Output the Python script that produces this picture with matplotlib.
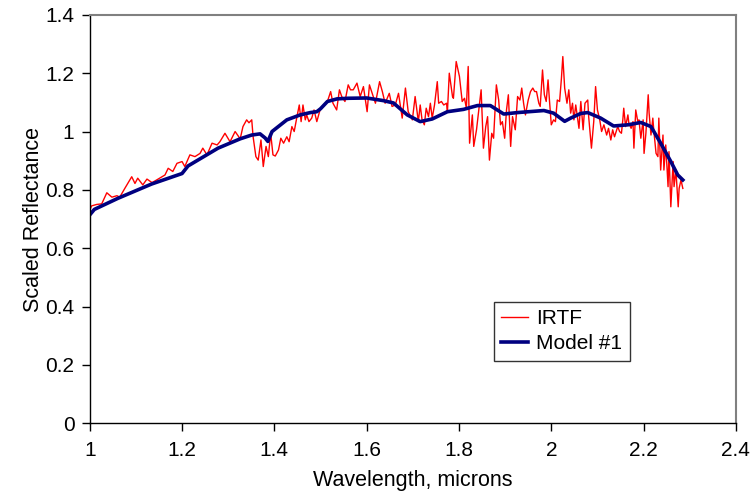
import matplotlib
matplotlib.use("Agg")
import matplotlib.pyplot as plt
from matplotlib.ticker import FuncFormatter

plt.rcParams['font.family'] = ['Liberation Sans', 'DejaVu Sans']

irtf_wl = [1.0, 1.004, 1.015, 1.026, 1.037, 1.048, 1.059, 1.065, 1.076, 1.091, 1.098, 1.104,
           1.115, 1.124, 1.135, 1.145, 1.163, 1.17, 1.18, 1.189, 1.2, 1.206, 1.217, 1.228,
           1.239, 1.245, 1.254, 1.265, 1.276, 1.282, 1.293, 1.304, 1.315, 1.326, 1.332, 1.34,
           1.345, 1.351, 1.354, 1.36, 1.365, 1.371, 1.376, 1.382, 1.387, 1.392, 1.397, 1.402,
           1.409, 1.414, 1.42, 1.427, 1.432, 1.438, 1.443, 1.449, 1.454, 1.458, 1.462, 1.467,
           1.47, 1.475, 1.481, 1.486, 1.492, 1.499, 1.506, 1.515, 1.522, 1.527, 1.535, 1.541,
           1.546, 1.553, 1.56, 1.565, 1.571, 1.579, 1.586, 1.593, 1.601, 1.606, 1.612, 1.619,
           1.628, 1.634, 1.64, 1.649, 1.655, 1.662, 1.669, 1.677, 1.684, 1.69, 1.699, 1.705,
           1.712, 1.716, 1.72, 1.725, 1.729, 1.734, 1.738, 1.742, 1.747, 1.753, 1.756, 1.762,
           1.767, 1.773, 1.775, 1.779, 1.786, 1.788, 1.794, 1.801, 1.807, 1.812, 1.816, 1.82,
           1.823, 1.829, 1.832, 1.838, 1.843, 1.848, 1.853, 1.858, 1.862, 1.866, 1.871, 1.875,
           1.881, 1.886, 1.89, 1.894, 1.899, 1.903, 1.907, 1.912, 1.916, 1.922, 1.927, 1.932,
           1.936, 1.94, 1.944, 1.95, 1.955, 1.96, 1.964, 1.968, 1.973, 1.976, 1.981, 1.985,
           1.989, 1.993, 1.996, 2.0, 2.005, 2.009, 2.013, 2.018, 2.022, 2.025, 2.029, 2.034,
           2.038, 2.042, 2.046, 2.049, 2.053, 2.06, 2.064, 2.069, 2.073, 2.079, 2.081, 2.087,
           2.092, 2.096, 2.1, 2.105, 2.109, 2.114, 2.12, 2.124, 2.129, 2.133, 2.137, 2.144,
           2.148, 2.152, 2.155, 2.157, 2.161, 2.166, 2.168, 2.173, 2.177, 2.179, 2.183, 2.188,
           2.19, 2.194, 2.199, 2.201, 2.205, 2.21, 2.212, 2.216, 2.22, 2.222, 2.227, 2.231,
           2.233, 2.237, 2.242, 2.244, 2.248, 2.253, 2.255, 2.259, 2.264, 2.266, 2.27, 2.275,
           2.277, 2.281, 2.285]
irtf_refl = [0.73, 0.745, 0.75, 0.752, 0.79, 0.775, 0.78, 0.775, 0.805, 0.845, 0.822, 0.84,
             0.817, 0.837, 0.825, 0.834, 0.851, 0.874, 0.863, 0.891, 0.897, 0.88, 0.92, 0.914,
             0.925, 0.943, 0.92, 0.96, 0.954, 0.965, 0.994, 0.965, 1.0, 0.975, 1.017, 1.04,
             1.03, 1.04, 0.982, 0.914, 0.902, 0.971, 0.88, 0.949, 0.914, 0.994, 0.92, 0.916,
             0.937, 0.977, 0.96, 0.982, 0.965, 1.017, 1.0, 1.051, 1.091, 1.034, 1.091, 1.04,
             1.057, 1.034, 1.046, 1.074, 1.034, 1.074, 1.086, 1.103, 1.137, 1.097, 1.074, 1.143,
             1.12, 1.103, 1.16, 1.143, 1.143, 1.166, 1.12, 1.154, 1.068, 1.16, 1.131, 1.097,
             1.171, 1.137, 1.097, 1.131, 1.086, 1.091, 1.131, 1.046, 1.149, 1.068, 1.04, 1.12,
             1.034, 1.091, 1.04, 1.023, 1.08, 1.051, 1.097, 1.046, 1.091, 1.171, 1.097, 1.103,
             1.091, 1.097, 1.068, 1.2, 1.12, 1.114, 1.24, 1.189, 1.103, 1.114, 1.08, 1.223,
             0.96, 1.057, 0.949, 1.006, 1.074, 1.143, 0.943, 1.017, 1.051, 0.902, 0.994, 0.977,
             1.16, 1.108, 1.023, 1.034, 0.977, 1.074, 1.126, 0.949, 1.051, 1.006, 1.12, 1.108,
             1.149, 1.097, 1.057, 1.108, 1.137, 1.149, 1.137, 1.137, 1.097, 1.086, 1.211, 1.126,
             1.103, 1.177, 1.108, 1.023, 1.04, 1.034, 1.108, 1.103, 1.183, 1.257, 1.149, 1.097,
             1.143, 1.063, 1.097, 1.04, 1.091, 1.011, 1.103, 1.006, 1.097, 1.108, 1.051, 0.943,
             1.034, 1.154, 1.074, 1.04, 1.0, 1.023, 0.988, 1.011, 0.971, 1.006, 0.982, 1.017,
             1.0, 0.994, 1.04, 1.08, 1.017, 1.057, 1.029, 1.011, 1.034, 0.943, 1.074, 1.029,
             1.04, 0.977, 1.04, 0.925, 0.994, 1.126, 1.063, 0.988, 1.046, 1.006, 0.925, 0.914,
             1.046, 0.868, 0.988, 0.868, 0.954, 0.811, 0.931, 0.742, 0.897, 0.811, 0.868, 0.742,
             0.805, 0.834, 0.805]

model_wl = [1.0, 1.01, 1.061, 1.134, 1.2, 1.213, 1.278, 1.326, 1.351, 1.369, 1.38, 1.386,
            1.395, 1.427, 1.456, 1.478, 1.492, 1.5, 1.515, 1.536, 1.56, 1.6, 1.636, 1.658,
            1.688, 1.716, 1.742, 1.775, 1.81, 1.84, 1.868, 1.897, 1.927, 1.984, 2.005, 2.029,
            2.042, 2.064, 2.079, 2.107, 2.135, 2.166, 2.194, 2.216, 2.237, 2.259, 2.274, 2.285]
model_refl = [0.714, 0.733, 0.771, 0.82, 0.856, 0.882, 0.943, 0.975, 0.988, 0.992, 0.978, 0.966,
              1.0, 1.04, 1.057, 1.065, 1.068, 1.078, 1.103, 1.112, 1.114, 1.115, 1.106, 1.098,
              1.057, 1.034, 1.043, 1.068, 1.076, 1.089, 1.089, 1.06, 1.065, 1.072, 1.063, 1.035,
              1.046, 1.062, 1.065, 1.046, 1.019, 1.023, 1.031, 1.017, 0.96, 0.897, 0.851, 0.834]

x_ticks = [1, 1.2, 1.4, 1.6, 1.8, 2, 2.2, 2.4]
y_ticks = [0, 0.2, 0.4, 0.6, 0.8, 1, 1.2, 1.4]

fig = plt.figure(figsize=(7.54, 4.95), dpi=100)
ax = fig.add_axes([0.119, 0.145, 0.857, 0.825])

ax.plot(irtf_wl, irtf_refl, color='#ff0000', lw=1.0, label='IRTF')
ax.plot(model_wl, model_refl, color='#000080', lw=2.6, label='Model #1',
        solid_joinstyle='round')

ax.set_xlim(1, 2.4)
ax.set_ylim(0, 1.4)
ax.set_xticks(x_ticks)
ax.set_yticks(y_ticks)
fmt = FuncFormatter(lambda v, p: '%g' % round(v, 3))
ax.xaxis.set_major_formatter(fmt)
ax.yaxis.set_major_formatter(fmt)
ax.tick_params(direction='out', length=6, width=1, labelsize=15, pad=5)
ax.tick_params(axis='x', pad=7)

for s in ['top', 'right']:
    ax.spines[s].set_color('#808080')
    ax.spines[s].set_linewidth(1.5)
for s in ['left', 'bottom']:
    ax.spines[s].set_color('black')
    ax.spines[s].set_linewidth(1)

ax.set_xlabel('Wavelength, microns', fontsize=15.5, labelpad=7)
ax.set_ylabel('Scaled Reflectance', fontsize=15.5, labelpad=1)

leg = ax.legend(loc='upper left', bbox_to_anchor=(0.625, 0.297), fontsize=15,
                frameon=True, fancybox=False, shadow=False, handlelength=1.3,
                handletextpad=0.4, borderpad=0.35, labelspacing=0.3, borderaxespad=0)
leg.get_frame().set_edgecolor('black')
leg.get_frame().set_linewidth(1)

fig.savefig('out.png', dpi=100)
